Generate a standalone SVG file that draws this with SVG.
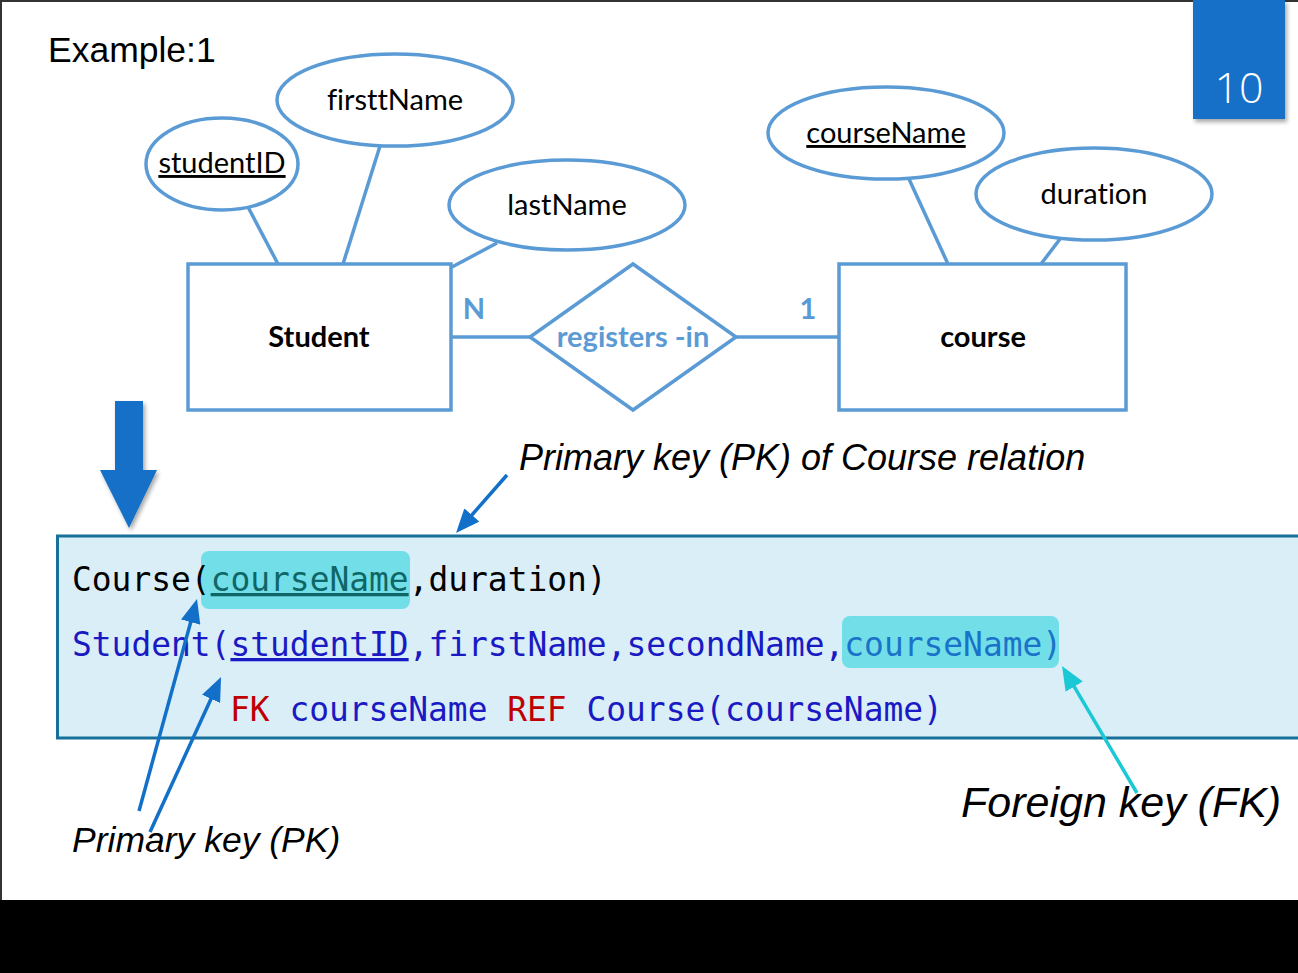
<svg xmlns="http://www.w3.org/2000/svg" width="1298" height="973" viewBox="0 0 1298 973">
  <defs>
    <style>
      .attr{fill:#fff;stroke:#5B9BD5;stroke-width:3.5}
      .ent{fill:#fff;stroke:#5B9BD5;stroke-width:3.5}
      .link{stroke:#5B9BD5;stroke-width:3.5;fill:none}
      .lbl{font-family:Lato,"Open Sans",sans-serif;font-size:29px;fill:#000;text-anchor:middle;font-variant-ligatures:none}
      .ul{text-decoration:underline}
      .bold{font-weight:bold}
      .card{font-family:Lato,"Open Sans",sans-serif;font-size:29px;font-weight:bold;fill:#5B9BD5}
      .code{font-family:"DejaVu Sans Mono","Liberation Mono",monospace;font-size:32.9px}
      .title{font-family:"Liberation Sans",Arial,sans-serif;font-size:35.5px;fill:#000}
      .note{font-family:"Liberation Sans",Arial,sans-serif;font-style:italic;fill:#000}
      .ptr{stroke:#1270C8;stroke-width:3.5;fill:none;marker-end:url(#headBlue)}
      .ptrFk{stroke:#1BC9D6;stroke-width:3.5;fill:none;marker-end:url(#headCyan)}
      .hl{fill:#72DFE8}
      .blue{fill:#1A1AC4}
      .red{fill:#C00000}
    </style>
    <marker id="headBlue" markerUnits="userSpaceOnUse" markerWidth="24" markerHeight="20" viewBox="0 0 24 20" refX="16" refY="10" orient="auto">
      <path d="M0,0 L24,10 L0,20 Z" fill="#1270C8"/>
    </marker>
    <marker id="headCyan" markerUnits="userSpaceOnUse" markerWidth="24" markerHeight="20" viewBox="0 0 24 20" refX="16" refY="10" orient="auto">
      <path d="M0,0 L24,10 L0,20 Z" fill="#1BC9D6"/>
    </marker>
    <filter id="shadow" x="-20%" y="-20%" width="140%" height="140%">
      <feDropShadow dx="2" dy="3" stdDeviation="2" flood-color="#000" flood-opacity="0.35"/>
    </filter>
  </defs>

  <!-- page -->
  <rect x="0" y="0" width="1298" height="973" fill="#000"/>
  <rect x="0" y="0" width="1298" height="900" fill="#fff"/>
  <path d="M1,900 V1 H1298" fill="none" stroke="#333" stroke-width="2"/>

  <text class="title" x="48" y="62">Example:1</text>

  <!-- slide number -->
  <g id="slide-number">
    <rect x="1193" y="0" width="92" height="119" fill="#1270C8" filter="url(#shadow)"/>
    <text x="1239" y="103" font-family="'Open Sans',Lato,sans-serif" font-weight="300" font-size="43" fill="#fff" text-anchor="middle">10</text>
  </g>

  <!-- connectors -->
  <g id="connectors">
    <line class="link" x1="248" y1="207" x2="278" y2="264"/>
    <line class="link" x1="380" y1="146" x2="343" y2="264"/>
    <line class="link" x1="497" y1="243" x2="452" y2="267"/>
    <line class="link" x1="909" y1="179" x2="948" y2="264"/>
    <line class="link" x1="1060" y1="239" x2="1041" y2="264"/>
    <line class="link" x1="451" y1="337" x2="530" y2="337"/>
    <line class="link" x1="736" y1="337" x2="839" y2="337"/>
  </g>

  <!-- attributes -->
  <g id="attr-studentID">
    <ellipse class="attr" cx="222" cy="164" rx="76" ry="46"/>
    <text class="lbl ul" x="222" y="173">studentID</text>
  </g>
  <g id="attr-firsttName">
    <ellipse class="attr" cx="395" cy="100" rx="118" ry="46"/>
    <text class="lbl" x="395" y="110">firsttName</text>
  </g>
  <g id="attr-lastName">
    <ellipse class="attr" cx="567" cy="205" rx="118" ry="45"/>
    <text class="lbl" x="567" y="215">lastName</text>
  </g>
  <g id="attr-courseName">
    <ellipse class="attr" cx="886" cy="133" rx="118" ry="46"/>
    <text class="lbl ul" x="886" y="143">courseName</text>
  </g>
  <g id="attr-duration">
    <ellipse class="attr" cx="1094" cy="194" rx="118" ry="46"/>
    <text class="lbl" x="1094" y="204">duration</text>
  </g>

  <!-- entities -->
  <g id="entity-student">
    <rect class="ent" x="188" y="264" width="263" height="146"/>
    <text class="lbl bold" x="319" y="347">Student</text>
  </g>
  <g id="entity-course">
    <rect class="ent" x="839" y="264" width="287" height="146"/>
    <text class="lbl bold" x="983" y="347">course</text>
  </g>

  <!-- relationship -->
  <g id="rel-registers-in">
    <path class="ent" d="M633,264 L736,337 L633,410 L530,337 Z"/>
    <text class="card" x="633" y="347" text-anchor="middle">registers -in</text>
  </g>
  <text class="card" x="474" y="319" text-anchor="middle" font-size="27">N</text>
  <text class="card" x="808" y="319" text-anchor="middle" font-size="27">1</text>

  <!-- mapping arrow -->
  <path d="M115,401 H143 V470 H157 L129,528 L100,470 H115 Z" fill="#1270C8" filter="url(#shadow)"/>

  <!-- relational schema -->
  <g id="schema">
    <rect x="57.5" y="536" width="1260" height="202" fill="#DAEEF7" stroke="#17709A" stroke-width="3"/>
    <rect class="hl" x="201" y="551" width="209" height="58" rx="8"/>
    <rect class="hl" x="842" y="616" width="217" height="52" rx="8"/>
    <text class="code" x="72" y="591" fill="#000">Course(<tspan fill="#0F6666" class="ul">courseName</tspan>,duration)</text>
    <text class="code blue" x="72" y="656">Student(<tspan class="ul">studentID</tspan>,firstName,secondName,<tspan fill="#1A73C8">courseName)</tspan></text>
    <text class="code blue" x="230" y="721"><tspan class="red">FK</tspan> courseName <tspan class="red">REF</tspan> Course(courseName)</text>
  </g>

  <!-- annotations -->
  <g id="note-pk-course">
    <text class="note" x="519" y="470" font-size="36">Primary key (PK) of Course relation</text>
    <line class="ptr" x1="507" y1="475" x2="461.3" y2="527"/>
  </g>
  <g id="note-pk">
    <text class="note" x="72" y="852" font-size="35.5">Primary key (PK)</text>
    <line class="ptr" x1="139" y1="811" x2="194.9" y2="606.7"/>
    <line class="ptr" x1="150" y1="832" x2="217.7" y2="684.3"/>
  </g>
  <g id="note-fk">
    <text class="note" x="961" y="817" font-size="43">Foreign key (FK)</text>
    <line class="ptrFk" x1="1137" y1="793" x2="1066.1" y2="672.9"/>
  </g>
</svg>
